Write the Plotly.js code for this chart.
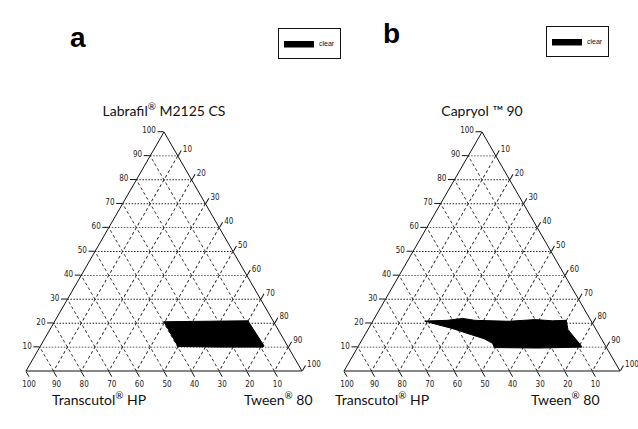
<!DOCTYPE html>
<html><head><meta charset="utf-8">
<script src="https://cdn.plot.ly/plotly-3.0.1.min.js"></script>
<style>html,body{margin:0;padding:0;background:#fff}#chart{width:638px;height:429px}</style>
</head><body><div id="chart"></div>
<script>
// Component percentages: a = oil (top), b = Transcutol HP (bottom-left), c = Tween 80 (bottom-right)
// Panel a: Labrafil M2125 CS — boundary of the "clear" region
const oilA        = [20.6, 20.8, 21.0, 10.5, 10.0, 10.0, 10.3, 20.6];
const transcutolA = [39.7, 25.0,  9.1,  8.5,  9.2, 25.0, 39.8, 39.7];
const tweenA      = [39.7, 54.2, 69.9, 81.0, 80.8, 65.0, 49.9, 39.7];

// Panel b: Capryol 90 — boundary of the "clear" region
const oilB        = [20.9, 21.2, 22.0, 21.2, 20.8, 21.5, 21.0, 21.2, 17.3, 11.1, 10.0,  9.6,  9.8, 11.6, 13.5, 15.4, 17.8, 19.3, 20.9];
const transcutolB = [60.3, 52.0, 46.0, 42.0, 30.0, 20.0, 14.0,  8.9, 10.2,  8.9,  8.8, 25.0, 40.6, 40.4, 42.5, 46.7, 51.9, 56.2, 60.3];
const tweenB      = [18.8, 26.8, 32.0, 36.8, 49.2, 58.5, 65.0, 69.9, 72.5, 80.0, 81.2, 65.4, 49.6, 48.0, 44.0, 37.9, 30.3, 24.5, 18.8];

const tickVals = [10, 20, 30, 40, 50, 60, 70, 80, 90, 100];
const tickText = ['10', '20', '30', '40', '50', '60', '70', '80', '90', '100'];

const panelTitles = ['Labrafil<sup>®</sup> M2125 CS', 'Capryol ™ 90'];
const cornerB = 'Transcutol<sup>®</sup> HP';
const cornerC = 'Tween<sup>®</sup> 80';
const seriesName = 'clear';

const W = 638, H = 429;
const side = 276, triH = side * Math.sqrt(3) / 2, bottomY = 371;
const leftA = 26, leftB = 344;

function axis(title, dash) {
  return {
    title: {text: title, font: {family: 'Lato, Open Sans, sans-serif', size: 14, color: '#111'}},
    tickmode: 'array', tickvals: tickVals, ticktext: tickText,
    tickfont: {family: 'Liberation Sans Narrow, DejaVu Sans Condensed, sans-serif', size: 8, color: '#222'},
    ticks: 'outside', ticklen: 6, tickcolor: '#111', tickwidth: 1,
    showline: true, linecolor: '#111', linewidth: 1,
    showgrid: true, gridcolor: '#222', gridwidth: 0.9, griddash: dash,
    min: 0
  };
}
function tern(left, title) {
  return {
    sum: 100, bgcolor: '#fff',
    domain: {x: [left / W, (left + side) / W], y: [(H - bottomY) / H, (H - bottomY + triH) / H]},
    aaxis: axis(title, '1.5px,1.5px'),
    baxis: axis('', '3px,2.5px'),
    caxis: axis('', '3px,2.5px')
  };
}

const traces = [
  {type: 'scatterternary', subplot: 'ternary', name: seriesName, legend: 'legend',
   a: oilA, b: transcutolA, c: tweenA, mode: 'lines', fill: 'toself',
   fillcolor: '#000', line: {color: '#000', width: 1}, hoverinfo: 'skip'},
  {type: 'scatterternary', subplot: 'ternary2', name: seriesName, legend: 'legend2',
   a: oilB, b: transcutolB, c: tweenB, mode: 'lines', fill: 'toself',
   fillcolor: '#000', line: {color: '#000', width: 1}, hoverinfo: 'skip'}
];

const legendStyle = {font: {family: 'Liberation Sans Narrow, sans-serif', size: 7, color: '#111'},
  bgcolor: '#fff', bordercolor: '#111', borderwidth: 1, itemwidth: 30,
  xanchor: 'right', yanchor: 'top', tracegroupgap: 0};

const labelFont = {family: 'Lato, Open Sans, sans-serif', size: 14, color: '#111'};
const layout = {
  width: W, height: H, margin: {l: 0, r: 0, t: 0, b: 0},
  paper_bgcolor: '#fff', showlegend: true,
  ternary: tern(leftA, panelTitles[0]),
  ternary2: tern(leftB, panelTitles[1]),
  legend: Object.assign({x: 341 / W, y: 1 - 28 / H}, legendStyle),
  legend2: Object.assign({x: 609 / W, y: 1 - 26 / H}, legendStyle),
  annotations: [
    {text: '<b>a</b>', x: 68 / W, y: 1 - 20 / H, xref: 'paper', yref: 'paper', showarrow: false,
     font: {family: 'Liberation Sans, Arial, sans-serif', size: 28, color: '#000'}},
    {text: '<b>b</b>', x: 391 / W, y: 1 - 16 / H, xref: 'paper', yref: 'paper', showarrow: false,
     font: {family: 'Liberation Sans, Arial, sans-serif', size: 28, color: '#000'}},
    {text: cornerB, x: 50 / W, y: 1 - 410 / H, xref: 'paper', yref: 'paper', showarrow: false, font: labelFont},
    {text: cornerC, x: 278 / W, y: 1 - 410 / H, xref: 'paper', yref: 'paper', showarrow: false, font: labelFont},
    {text: cornerB, x: 382 / W, y: 1 - 410 / H, xref: 'paper', yref: 'paper', showarrow: false, font: labelFont},
    {text: cornerC, x: 602 / W, y: 1 - 410 / H, xref: 'paper', yref: 'paper', showarrow: false, font: labelFont}
  ]
};

Plotly.newPlot('chart', traces, layout, {staticPlot: true, displayModeBar: false});
</script>
</body></html>
